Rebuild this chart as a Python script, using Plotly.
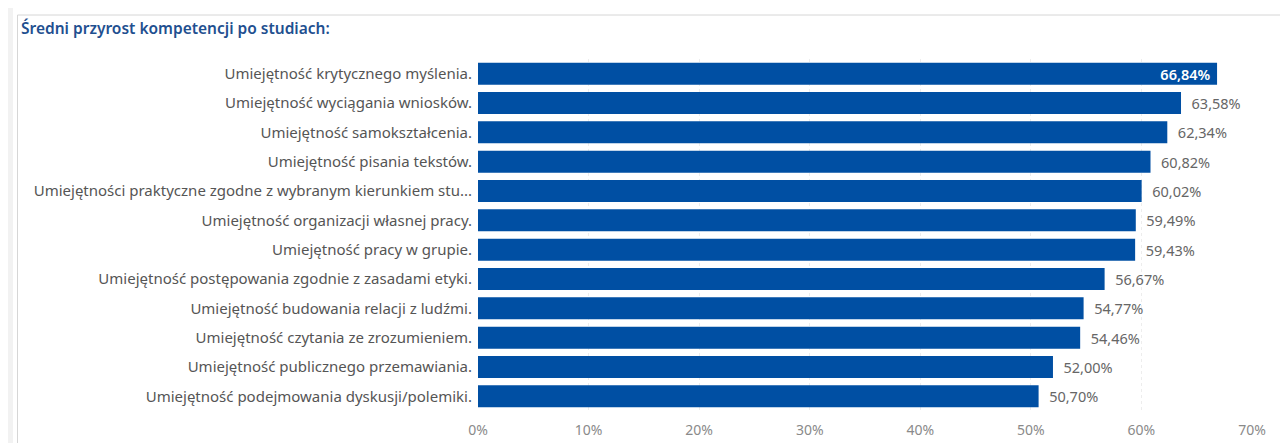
import plotly.graph_objects as go

title_text = "Średni przyrost kompetencji po studiach:"
categories = [
    "Umiejętność krytycznego myślenia.",
    "Umiejętność wyciągania wniosków.",
    "Umiejętność samokształcenia.",
    "Umiejętność pisania tekstów.",
    "Umiejętności praktyczne zgodne z wybranym kierunkiem stu...",
    "Umiejętność organizacji własnej pracy.",
    "Umiejętność pracy w grupie.",
    "Umiejętność postępowania zgodnie z zasadami etyki.",
    "Umiejętność budowania relacji z ludźmi.",
    "Umiejętność czytania ze zrozumieniem.",
    "Umiejętność publicznego przemawiania.",
    "Umiejętność podejmowania dyskusji/polemiki.",
]
values = [66.84, 63.58, 62.34, 60.82, 60.02, 59.49, 59.43, 56.67, 54.77, 54.46, 52.00, 50.70]
x_ticks = [0, 10, 20, 30, 40, 50, 60, 70]
x_tick_labels = [f"{t}%" for t in x_ticks]

# page has an 8px body margin, so the figure is offset by 8px
OFF = 8
W, H = 1288 - OFF, 443 - OFF
ML, MR, MT, MB = 478 - OFF, 36, 59 - OFF, 32
PW, PH = W - ML - MR, H - MT - MB

def px_x(p):
    return (p - OFF - ML) / PW

def px_y(p):
    return (H - MB - (p - OFF)) / PH

NB = "\u00a0"
labels = []
for i, v in enumerate(values):
    s = f"{v:.2f}".replace(".", ",") + "%"
    labels.append(s + NB if i == 0 else NB + NB + s)
positions = ["inside" if i == 0 else "outside" for i in range(len(values))]
colors = ["#FFFFFF" if i == 0 else "#666666" for i in range(len(values))]

FAM = "Noto Sans, Segoe UI, sans-serif"

fig = go.Figure(go.Bar(
    x=values, y=categories, orientation="h",
    marker=dict(color="#004FA3", line=dict(width=0)),
    text=labels, textposition=positions, insidetextanchor="end",
    constraintext="none",
    textfont=dict(color=colors, size=14.5, family=FAM),
    insidetextfont=dict(color="#FFFFFF", size=14.5, family=FAM, weight=600),
    outsidetextfont=dict(color="#666666", size=14.5, family=FAM),
    cliponaxis=False, hoverinfo="skip",
))

fig.update_layout(
    width=W, height=H,
    margin=dict(l=ML, r=MR, t=MT, b=MB, autoexpand=False),
    paper_bgcolor="white", plot_bgcolor="white",
    bargap=0.25, showlegend=False,
    font=dict(family=FAM, color="#555555"),
)
fig.update_xaxes(
    range=[0, 70], tickvals=x_ticks, ticktext=x_tick_labels,
    showgrid=True, gridcolor="#EDEDED", griddash="dot", gridwidth=1,
    zeroline=False, showline=False, ticks="",
    tickfont=dict(size=14, color="#8A8A8A"), ticklabelstandoff=9,
)
fig.update_yaxes(
    autorange="reversed", showgrid=False, zeroline=False, showline=False, ticks="",
    tickfont=dict(size=15, color="#555555"), ticklabelstandoff=5,
)

# panel background strip and borders
fig.add_shape(type="rect", xref="paper", yref="paper",
              x0=px_x(OFF), x1=px_x(13), y0=px_y(443), y1=px_y(OFF),
              fillcolor="#F2F2F2", line=dict(width=0), layer="below")
fig.add_shape(type="line", xref="paper", yref="paper",
              x0=px_x(17.5), x1=px_x(17.5), y0=px_y(15), y1=px_y(443),
              line=dict(color="#D6D6D6", width=1))
fig.add_shape(type="line", xref="paper", yref="paper",
              x0=px_x(17.5), x1=px_x(1288), y0=px_y(15), y1=px_y(15),
              line=dict(color="#D6D6D6", width=1))

fig.add_annotation(text=title_text, xref="paper", yref="paper",
                   x=px_x(19), y=px_y(28), xanchor="left", yanchor="middle",
                   showarrow=False,
                   font=dict(size=15.5, color="#1F5090", family=FAM, weight=600))

fig.write_html("out.html")
